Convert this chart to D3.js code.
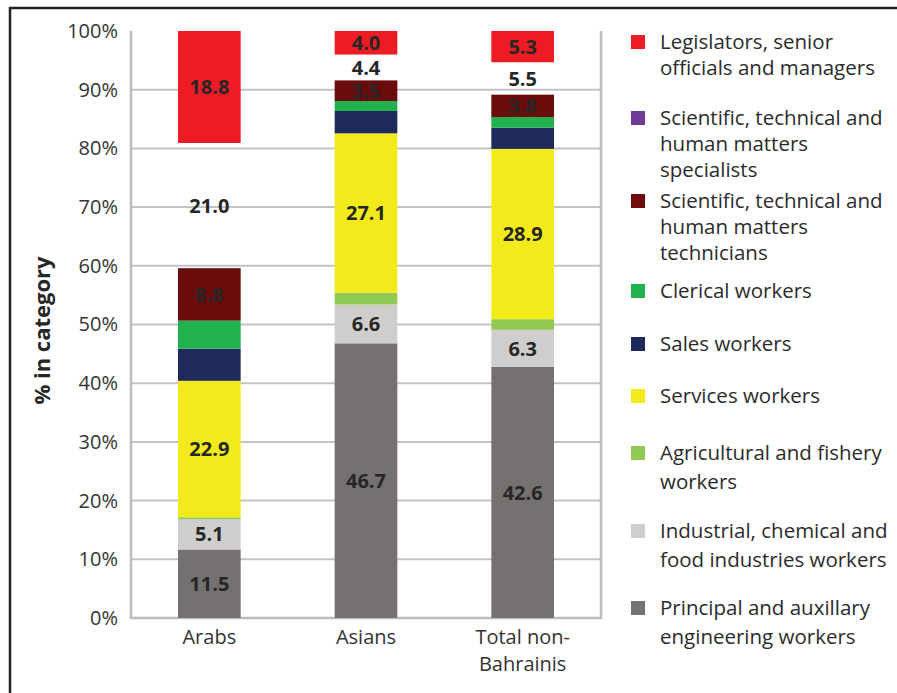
<!DOCTYPE html>
<html>
<head>
<meta charset="utf-8">
<script src="https://cdn.jsdelivr.net/npm/d3@7"></script>
<style>
  body { margin: 0; background: #fff; }
  text { font-family: "Open Sans", Lato, sans-serif; }
</style>
</head>
<body>
<svg id="chart"></svg>
<script>
// categories on the x axis
const groups = ["Arabs", "Asians", "Total non-Bahrainis"];
const groupLines = [["Arabs"], ["Asians"], ["Total non-", "Bahrainis"]];

// occupations, bottom of stack to top
const occupations = ["principal", "industrial", "agricultural", "services", "sales",
                     "clerical", "technicians", "specialists", "legislators"];

// values in percent (Arabs, Asians, Total non-Bahrainis)
const principal    = [11.5, 46.7, 42.6];
const industrial   = [5.1, 6.6, 6.3];
const agricultural = [0.3, 2.0, 1.8];
const services     = [22.9, 27.1, 28.9];
const sales        = [5.4, 3.8, 3.6];
const clerical     = [4.7, 1.7, 1.8];
const technicians  = [8.8, 3.5, 3.8];
const specialists  = [21.0, 4.4, 5.5];
const legislators  = [18.8, 4.0, 5.3];

// segments that carry a value label
const labelled = ["principal", "industrial", "services", "technicians", "specialists", "legislators"];

const yTicks = [0, 10, 20, 30, 40, 50, 60, 70, 80, 90, 100];

// legend, top to bottom
const legendKeys = ["legislators", "specialists", "technicians", "clerical", "sales",
                    "services", "agricultural", "industrial", "principal"];
const legendText = {
  legislators: ["Legislators, senior", "officials and managers"],
  specialists: ["Scientific, technical and", "human matters", "specialists"],
  technicians: ["Scientific, technical and", "human matters", "technicians"],
  clerical: ["Clerical workers"],
  sales: ["Sales workers"],
  services: ["Services workers"],
  agricultural: ["Agricultural and fishery", "workers"],
  industrial: ["Industrial, chemical and", "food industries workers"],
  principal: ["Principal and auxillary", "engineering workers"]
};

const barColor = {
  principal: "#767171", industrial: "#d0cecd", agricultural: "#92c952", services: "#f2ea1a",
  sales: "#1f2a5c", clerical: "#21b14f", technicians: "#6b0c0c", specialists: "none",
  legislators: "#ed1c24"
};
const legendColor = Object.assign({}, barColor, { specialists: "#6f3a98", technicians: "#700c0c" });

const width = 897, height = 693;
const plot = { left: 131, right: 601, top: 31, bottom: 618 };

const svg = d3.select("#chart").attr("width", width).attr("height", height);

// outer frame
svg.append("path")
    .attr("d", `M10,${height + 5} V8 H${width + 5}`)
    .attr("fill", "none")
    .attr("stroke", "#222")
    .attr("stroke-width", 2.5);

// build the table for d3.stack
const series = { principal, industrial, agricultural, services, sales, clerical, technicians, specialists, legislators };
const table = groups.map((g, i) => {
  let row = { group: g };
  occupations.forEach(k => row[k] = series[k][i]);
  return row;
});

const stacked = d3.stack()
    .keys(occupations)
    .offset(d3.stackOffsetExpand)(table);

const x = d3.scaleBand()
    .domain(groups)
    .range([plot.left, plot.right])
    .paddingInner(0.6)
    .paddingOuter(0.3);

const y = d3.scaleLinear()
    .domain([0, 1])
    .range([plot.bottom, plot.top]);

// gridlines
svg.append("g")
  .selectAll("line")
  .data(yTicks.filter(t => t > 0 && t < 100))
  .enter()
  .append("line")
    .attr("x1", plot.left)
    .attr("x2", plot.right)
    .attr("y1", d => y(d / 100))
    .attr("y2", d => y(d / 100))
    .attr("stroke", "#c3c3c6")
    .attr("stroke-width", 2);

// plot frame: left, right, bottom
svg.append("path")
    .attr("d", `M${plot.left},${plot.top} V${plot.bottom} H${plot.right} V${plot.top}`)
    .attr("fill", "none")
    .attr("stroke", "#bdbdc1")
    .attr("stroke-width", 2.5);

// y axis labels
const yAxis = d3.axisLeft(y)
    .tickValues(yTicks.map(t => t / 100))
    .tickFormat(d => Math.round(d * 100) + "%")
    .tickSize(0)
    .tickPadding(13);

svg.append("g")
    .attr("transform", `translate(${plot.left},0)`)
    .call(yAxis)
    .call(g => g.select(".domain").remove())
    .selectAll("text")
      .attr("font-family", "'Open Sans', sans-serif")
      .attr("font-size", 20)
      .attr("fill", "#333");

// y title
svg.append("text")
    .attr("transform", `translate(50,${(plot.top + plot.bottom) / 2 + 6}) rotate(-90)`)
    .attr("text-anchor", "middle")
    .attr("font-size", 22)
    .attr("font-weight", "bold")
    .attr("fill", "#262626")
    .text("% in category");

// x labels
const xLab = svg.append("g")
  .selectAll("text")
  .data(groups)
  .enter()
  .append("text")
    .attr("x", d => x(d) + x.bandwidth() / 2)
    .attr("y", 644)
    .attr("text-anchor", "middle")
    .attr("font-size", 20)
    .attr("fill", "#333");
xLab.each(function(d, i) {
  d3.select(this).selectAll("tspan")
    .data(groupLines[i])
    .enter()
    .append("tspan")
      .attr("x", x(d) + x.bandwidth() / 2)
      .attr("dy", (t, j) => j === 0 ? 0 : 27)
      .text(t => t);
});

// bars
const layers = svg.append("g")
  .selectAll("g")
  .data(stacked)
  .enter()
  .append("g")
    .attr("fill", d => barColor[d.key]);

layers.selectAll("rect")
  .data(d => d)
  .enter()
  .append("rect")
    .attr("x", d => x(d.data.group))
    .attr("width", x.bandwidth())
    .attr("y", d => y(d[1]))
    .attr("height", d => y(d[0]) - y(d[1]));

// value labels
svg.append("g")
  .selectAll("g")
  .data(stacked.filter(s => labelled.includes(s.key)))
  .enter()
  .append("g")
  .selectAll("text")
  .data(s => s.map(d => ({ key: s.key, d: d })))
  .enter()
  .append("text")
    .attr("x", o => x(o.d.data.group) + x.bandwidth() / 2)
    .attr("y", o => y((o.d[0] + o.d[1]) / 2))
    .attr("dy", "0.36em")
    .attr("text-anchor", "middle")
    .attr("font-size", 20)
    .attr("font-weight", "bold")
    .attr("fill", "#262626")
    .text(o => o.d.data[o.key].toFixed(1));

// legend
const legendY = [42, 118, 201, 291, 344, 396, 453, 531, 608];
const legendLine = [26, 26, 26, 26, 26, 26, 29, 29, 29];

const legend = svg.append("g")
  .selectAll("g")
  .data(legendKeys)
  .enter()
  .append("g")
    .attr("transform", (d, i) => `translate(631,${legendY[i]})`);

legend.append("rect")
    .attr("x", 0)
    .attr("y", -7)
    .attr("width", 14)
    .attr("height", 14)
    .attr("fill", d => legendColor[d]);

legend.append("text")
    .attr("x", 29)
    .attr("y", 0)
    .attr("font-size", 20.5)
    .attr("fill", "#2b2b2b")
  .selectAll("tspan")
  .data((d, i) => legendText[d].map((t, j) => ({ t, j, lh: legendLine[i] })))
  .enter()
  .append("tspan")
    .attr("x", 29)
    .attr("y", o => o.j * o.lh)
    .attr("dy", "0.35em")
    .text(o => o.t);
</script>
</body>
</html>
